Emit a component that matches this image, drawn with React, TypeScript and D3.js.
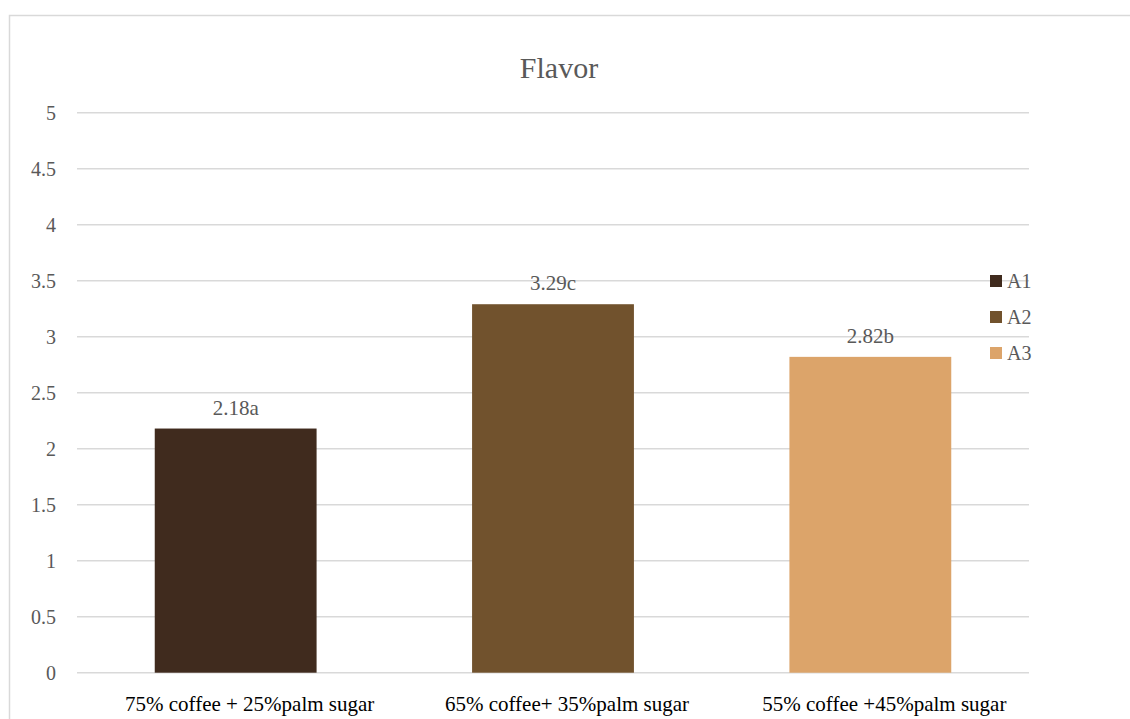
import * as d3 from 'd3';
import { useEffect, useRef } from 'react';

const categories = ['75% coffee + 25%palm sugar', '65% coffee+ 35%palm sugar', '55% coffee +45%palm sugar'];
const seriesNames = ['A1', 'A2', 'A3'];
const values = [2.18, 3.29, 2.82];
const letters = ['a', 'c', 'b'];
const yTicks = [0, 0.5, 1, 1.5, 2, 2.5, 3, 3.5, 4, 4.5, 5];
const colors = ['#402b1e', '#71522d', '#dca46a'];

const App = () => {
    const ref = useRef<SVGSVGElement>(null);

    useEffect(() => {
        const W = 1130, H = 719;
        const plot = { left: 77, right: 1029, top: 112.7, bottom: 672.7 };
        const font = "'Liberation Serif', 'DejaVu Serif', serif";

        const svg = d3.select(ref.current);
        svg.selectAll('*').remove();
        svg.attr('width', W).attr('height', H);

        svg.append('rect').attr('width', W).attr('height', H).attr('fill', '#fff');

        // chart area border (runs off the right/bottom edges)
        svg.append('rect')
            .attr('x', 9.5).attr('y', 15.5)
            .attr('width', 1300).attr('height', 900)
            .attr('fill', 'none').attr('stroke', '#d9d9d9').attr('stroke-width', 1.5);

        const x = d3.scaleBand<string>()
            .domain(categories)
            .range([plot.left, plot.right])
            .paddingInner(0.49).paddingOuter(0.245);

        const y = d3.scaleLinear().domain([0, 5]).range([plot.bottom, plot.top]);

        // gridlines
        svg.append('g').selectAll('line').data(yTicks).join('line')
            .attr('x1', plot.left).attr('x2', plot.right)
            .attr('y1', d => y(d)).attr('y2', d => y(d))
            .attr('stroke', '#d9d9d9').attr('stroke-width', 1.5);

        const txt = svg.append('g').style('font-family', font);

        // y labels
        txt.append('g').selectAll('text').data(yTicks).join('text')
            .attr('x', 56).attr('y', d => y(d) + 7)
            .attr('text-anchor', 'end')
            .style('font-size', '20px').attr('fill', '#595959')
            .text(d => String(d));

        // bars
        svg.append('g').selectAll('rect').data(categories).join('rect')
            .attr('x', d => x(d)!)
            .attr('width', x.bandwidth())
            .attr('y', (_, i) => y(values[i]))
            .attr('height', (_, i) => y(0) - y(values[i]))
            .attr('fill', (_, i) => colors[i]);

        // data labels
        txt.append('g').selectAll('text').data(categories).join('text')
            .attr('x', d => x(d)! + x.bandwidth() / 2)
            .attr('y', (_, i) => y(values[i]) - 14)
            .attr('text-anchor', 'middle')
            .style('font-size', '21px').attr('fill', '#595959')
            .text((_, i) => values[i].toFixed(2) + letters[i]);

        // x labels (sit a little right of the bar centres, as in the original)
        txt.append('g').selectAll('text').data(categories).join('text')
            .attr('x', d => x(d)! + x.bandwidth() / 2)
            .attr('dx', 14)
            .attr('y', 711)
            .attr('text-anchor', 'middle')
            .style('font-size', '21px').attr('fill', '#000')
            .text(d => d);

        // title
        txt.append('text')
            .attr('x', 559).attr('y', 78)
            .attr('text-anchor', 'middle')
            .style('font-size', '30px').attr('fill', '#595959')
            .text('Flavor');

        // legend
        const legend = txt.append('g').attr('transform', 'translate(990,281)');
        seriesNames.forEach((name, i) => {
            legend.append('rect')
                .attr('x', 0).attr('y', i * 36 - 6)
                .attr('width', 12).attr('height', 12)
                .attr('fill', colors[i]);
            legend.append('text')
                .attr('x', 17).attr('y', i * 36 + 7)
                .style('font-size', '20px').attr('fill', '#595959')
                .text(name);
        });
    }, []);

    return <svg ref={ref} style={{ position: 'absolute', left: 0, top: 0 }} />;
};

export default App;
